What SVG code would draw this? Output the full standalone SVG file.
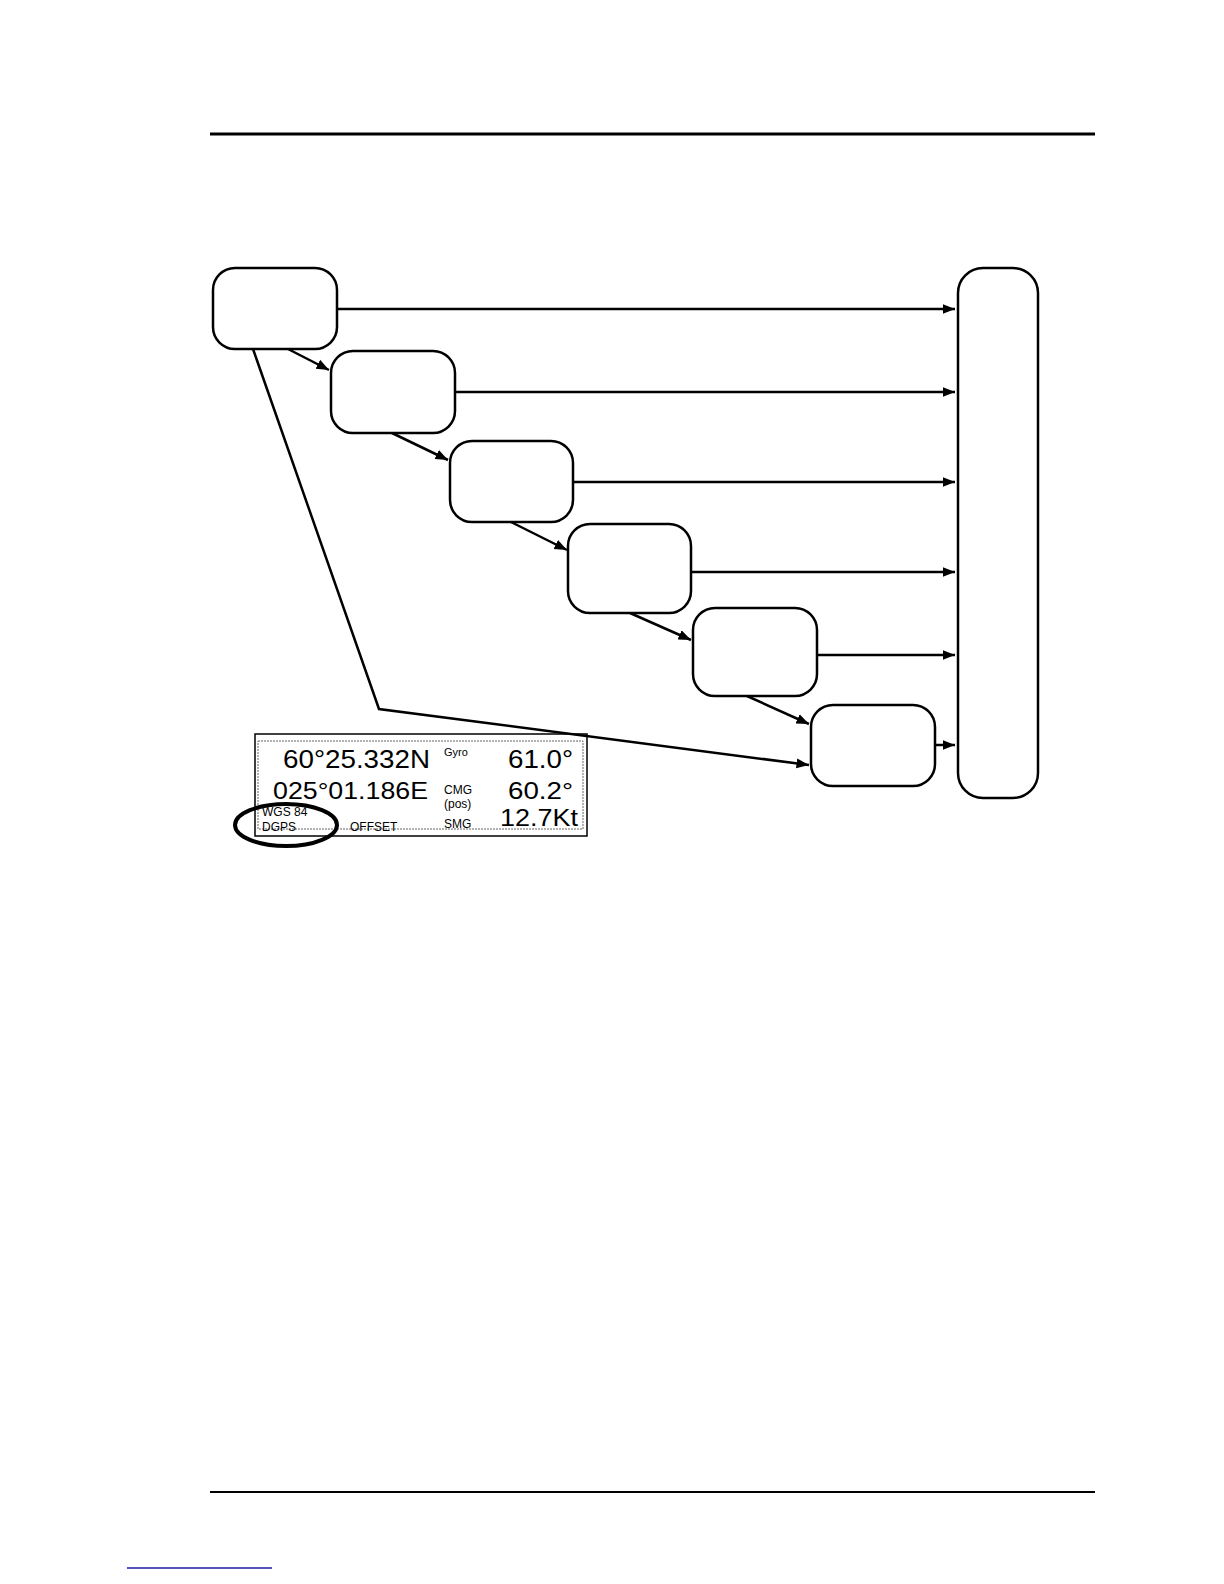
<svg xmlns="http://www.w3.org/2000/svg" width="1224" height="1584" viewBox="0 0 1224 1584">
<style>
.node{fill:#fff;stroke:#000;stroke-width:2.5}
.conn{fill:none;stroke:#000;stroke-width:2.5}
.t{font-family:"Liberation Sans",Arial,sans-serif;fill:#000}
</style>
<defs>
<marker id="ah" viewBox="0 0 10 10" refX="10" refY="5" markerWidth="5" markerHeight="5" orient="auto" markerUnits="strokeWidth">
<path d="M0,1 L10,5 L0,9 z" fill="#000"/>
</marker>
</defs>
<rect width="1224" height="1584" fill="#fff"/>
<line x1="210" y1="134" x2="1095" y2="134" stroke="#000" stroke-width="3"/>
<line x1="210" y1="1492" x2="1095" y2="1492" stroke="#000" stroke-width="2"/>
<line x1="127" y1="1568" x2="272" y2="1568" stroke="#1a1aa0" stroke-width="1.5"/>

<g id="display">
<rect x="255" y="734" width="332" height="102" fill="none" stroke="#000" stroke-width="1.5"/>
<rect x="258" y="741" width="325" height="88" fill="none" stroke="#666" stroke-width="1" stroke-dasharray="2,1"/>
<text class="t" x="283" y="768" font-size="25" textLength="147" lengthAdjust="spacingAndGlyphs">60°25.332N</text>
<text class="t" x="273" y="799" font-size="24" textLength="155" lengthAdjust="spacingAndGlyphs">025°01.186E</text>
<text class="t" x="444" y="756" font-size="11">Gyro</text>
<text class="t" x="444" y="794" font-size="12">CMG</text>
<text class="t" x="444" y="808" font-size="12">(pos)</text>
<text class="t" x="444" y="828" font-size="12">SMG</text>
<text class="t" x="508" y="768" font-size="25" textLength="65" lengthAdjust="spacingAndGlyphs">61.0°</text>
<text class="t" x="508" y="799" font-size="24" textLength="65" lengthAdjust="spacingAndGlyphs">60.2°</text>
<text class="t" x="500" y="826" font-size="24" textLength="78" lengthAdjust="spacingAndGlyphs">12.7Kt</text>
<text class="t" x="262" y="816" font-size="12">WGS 84</text>
<text class="t" x="262" y="831" font-size="12">DGPS</text>
<text class="t" x="350" y="831" font-size="12">OFFSET</text>
<ellipse cx="286" cy="825" rx="51" ry="21" fill="none" stroke="#000" stroke-width="4"/>
</g>

<g id="connectors">
<line class="conn" x1="337" y1="309" x2="955" y2="309" marker-end="url(#ah)"/>
<line class="conn" x1="455" y1="392" x2="955" y2="392" marker-end="url(#ah)"/>
<line class="conn" x1="573" y1="482" x2="955" y2="482" marker-end="url(#ah)"/>
<line class="conn" x1="691" y1="572" x2="955" y2="572" marker-end="url(#ah)"/>
<line class="conn" x1="817" y1="655" x2="955" y2="655" marker-end="url(#ah)"/>
<line class="conn" x1="935" y1="745" x2="955" y2="745" marker-end="url(#ah)"/>
<line class="conn" x1="288" y1="349" x2="329" y2="370" marker-end="url(#ah)"/>
<line class="conn" x1="392" y1="433" x2="448" y2="460" marker-end="url(#ah)"/>
<line class="conn" x1="511" y1="522" x2="567" y2="550" marker-end="url(#ah)"/>
<line class="conn" x1="630" y1="613" x2="691" y2="640" marker-end="url(#ah)"/>
<line class="conn" x1="747" y1="696" x2="809" y2="724" marker-end="url(#ah)"/>
<polyline class="conn" points="253,349 379,709 809,765" marker-end="url(#ah)"/>
</g>

<g id="node1"><rect class="node" x="213" y="268" width="124" height="81" rx="22"/></g>
<g id="node2"><rect class="node" x="331" y="351" width="124" height="82" rx="22"/></g>
<g id="node3"><rect class="node" x="450" y="441" width="123" height="81" rx="22"/></g>
<g id="node4"><rect class="node" x="568" y="524" width="123" height="89" rx="22"/></g>
<g id="node5"><rect class="node" x="693" y="608" width="124" height="88" rx="22"/></g>
<g id="node6"><rect class="node" x="811" y="705" width="124" height="81" rx="22"/></g>
<g id="node7"><rect class="node" x="958" y="268" width="80" height="530" rx="25"/></g>
</svg>
